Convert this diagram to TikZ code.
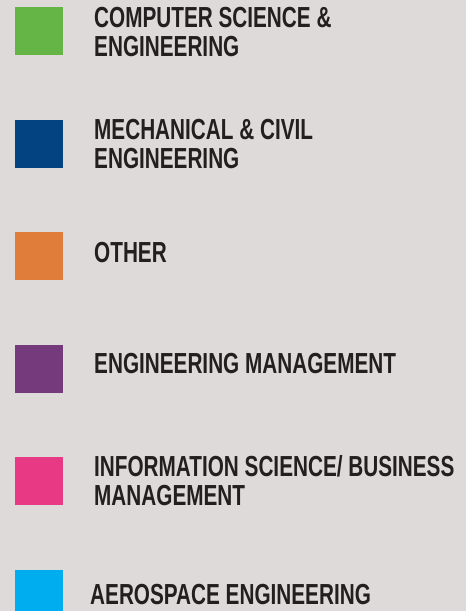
\documentclass[tikz,border=0pt]{standalone}
\usepackage{fontspec}
\usepackage{xcolor}
\usepackage{tikz}
\usetikzlibrary{positioning}
\newfontfamily\legendfont[FakeStretch=0.715]{Liberation Sans Bold}
\definecolor{bg}{RGB}{222,218,217}
\definecolor{ink}{RGB}{35,31,32}
\definecolor{cse}{RGB}{100,180,70}
\definecolor{mce}{RGB}{3,67,130}
\definecolor{oth}{RGB}{224,125,58}
\definecolor{emg}{RGB}{116,58,124}
\definecolor{isb}{RGB}{232,58,132}
\definecolor{aer}{RGB}{0,174,239}

\begin{document}
\begin{tikzpicture}[x=1pt, y=-1pt, inner sep=0pt]
  \fill[bg] (0,0) rectangle (466,611);
  \useasboundingbox (0,0) rectangle (466,611);
  % colour boxes
  \node (s1) [fill=cse, minimum size=48pt, anchor=north west] at (15,7) {};
  \node (s2) [fill=mce, minimum size=48pt, anchor=north west] at (15,120) {};
  \node (s3) [fill=oth, minimum size=48pt, anchor=north west] at (15,232) {};
  \node (s4) [fill=emg, minimum size=48pt, anchor=north west] at (15,345) {};
  \node (s5) [fill=isb, minimum size=48pt, anchor=north west] at (15,457) {};
  \node (s6) [fill=aer, minimum size=48pt, anchor=north west] at (15,570) {};
  % labels (base = last line)
  \begin{scope}[every node/.style={anchor=base west, align=left, text=ink,
      font=\legendfont\fontsize{29}{29.5}\selectfont}]
    \node (t1) at (94,56.7) {COMPUTER SCIENCE \&\\ENGINEERING};
    \node (t2) at (94,168.5) {MECHANICAL \& CIVIL\\ENGINEERING};
    \node (t3) at (94,262) {OTHER};
    \node (t4) at (94,373) {ENGINEERING MANAGEMENT};
    \node (t5) at (94,505.5) {INFORMATION SCIENCE/ BUSINESS\\MANAGEMENT};
    \node (t6) at (90,604) {AEROSPACE ENGINEERING};
  \end{scope}
\end{tikzpicture}
\end{document}
